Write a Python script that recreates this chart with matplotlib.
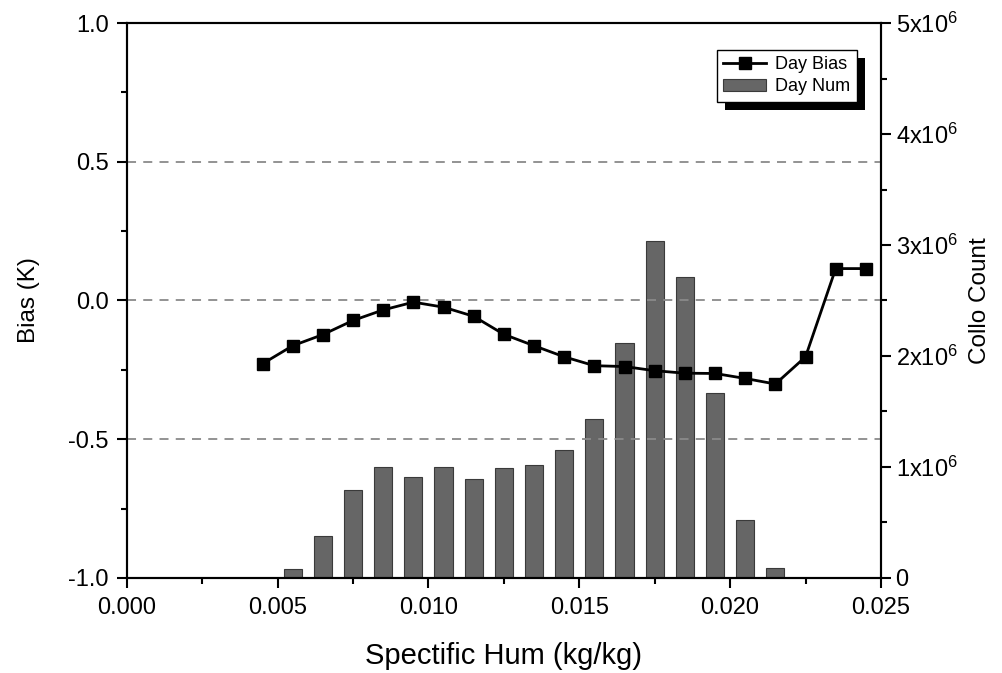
import numpy as np
import matplotlib
matplotlib.use("Agg")
import matplotlib.pyplot as plt
from matplotlib.patches import Rectangle
from matplotlib.ticker import MultipleLocator, FixedLocator

plt.rcParams['font.family'] = ['Liberation Sans', 'DejaVu Sans']
plt.rcParams['mathtext.fontset'] = 'custom'
plt.rcParams['mathtext.rm'] = 'Liberation Sans'
plt.rcParams['mathtext.it'] = 'Liberation Sans'

# Bias line (left axis)
bias_x = [0.0045, 0.0055, 0.0065, 0.0075, 0.0085, 0.0095, 0.0105, 0.0115,
          0.0125, 0.0135, 0.0145, 0.0155, 0.0165, 0.0175, 0.0185, 0.0195,
          0.0205, 0.0215, 0.0225, 0.0235, 0.0245]
day_bias = [-0.228, -0.163, -0.123, -0.072, -0.034, -0.006, -0.024, -0.057,
            -0.122, -0.163, -0.203, -0.235, -0.238, -0.253, -0.262, -0.263,
            -0.281, -0.301, -0.203, 0.115, 0.115]

# Collocation counts (right axis)
num_x = [0.0055, 0.0065, 0.0075, 0.0085, 0.0095, 0.0105, 0.0115, 0.0125,
         0.0135, 0.0145, 0.0155, 0.0165, 0.0175, 0.0185, 0.0195, 0.0205,
         0.0215]
day_num = [0.08e6, 0.38e6, 0.79e6, 1.0e6, 0.91e6, 1.0e6, 0.89e6, 0.99e6,
           1.02e6, 1.15e6, 1.43e6, 2.12e6, 3.04e6, 2.71e6, 1.67e6, 0.52e6,
           0.09e6]

right_ticks = [0, 1e6, 2e6, 3e6, 4e6, 5e6]
right_labels = ['0', '1x10$^{6}$', '2x10$^{6}$', '3x10$^{6}$', '4x10$^{6}$', '5x10$^{6}$']

fig = plt.figure(figsize=(10.02, 6.73), dpi=100)
ax = fig.add_axes([0.1265, 0.1412, 0.7527, 0.8246])
ax2 = ax.twinx()

# bars behind, line on top
bars = ax2.bar(num_x, day_num, width=0.0006, color='#666666',
               edgecolor='#3a3a3a', linewidth=0.8, label='Day Num')
ax.set_zorder(ax2.get_zorder() + 1)
ax.patch.set_visible(False)

for yv in [0.5, 0.0, -0.5]:
    ax.axhline(yv, color='#8a8a8a', lw=1.3, ls=(0, (5, 4)), zorder=1)

line, = ax.plot(bias_x, day_bias, color='black', lw=2, ls='-',
                marker='s', markersize=8.5, markerfacecolor='black',
                markeredgecolor='black', label='Day Bias', zorder=3)

ax.set_xlim(0, 0.025)
ax.set_ylim(-1.0, 1.0)
ax2.set_ylim(0, 5e6)

ax.xaxis.set_major_locator(MultipleLocator(0.005))
ax.xaxis.set_minor_locator(MultipleLocator(0.0025))
ax.yaxis.set_major_locator(MultipleLocator(0.5))
ax.yaxis.set_minor_locator(MultipleLocator(0.25))
ax.set_xticklabels([f'{v:.3f}' for v in ax.get_xticks()])
ax.set_yticks([-1.0, -0.5, 0.0, 0.5, 1.0])
ax.set_yticklabels(['-1.0', '-0.5', '0.0', '0.5', '1.0'])

ax2.yaxis.set_major_locator(FixedLocator(right_ticks))
ax2.set_yticklabels(right_labels)
ax2.yaxis.set_minor_locator(MultipleLocator(0.5e6))

for a in (ax, ax2):
    for s in a.spines.values():
        s.set_linewidth(1.5)
    a.tick_params(which='major', direction='out', length=7, width=1.5,
                  labelsize=17)
    a.tick_params(which='minor', direction='out', length=4, width=1.5)
ax.tick_params(axis='x', pad=7)
ax.tick_params(axis='y', pad=6)

ax.set_xlabel('Spectific Hum (kg/kg)', fontsize=21, labelpad=16)
ax.set_ylabel('Bias (K)', fontsize=17.5, labelpad=20)
ax2.set_ylabel('Collo Count', fontsize=17.5, labelpad=8)

leg = ax.legend([line, bars], ['Day Bias', 'Day Num'], loc='upper right',
                bbox_to_anchor=(0.968, 0.952), fontsize=13, frameon=True,
                fancybox=False, edgecolor='black', framealpha=1,
                handlelength=2.4, borderpad=0.35, labelspacing=0.3,
                handletextpad=0.5, borderaxespad=0)
leg.get_frame().set_linewidth(1.0)

# black drop shadow behind the legend box
fig.canvas.draw()
bb = leg.get_window_extent().transformed(fig.transFigure.inverted())
dx, dy = 8 / 1002, 8 / 673
shadow = Rectangle((bb.x0 + dx, bb.y0 - dy), bb.width, bb.height,
                   transform=fig.transFigure, facecolor='black',
                   edgecolor='none', zorder=0)
ax.add_artist(shadow)
shadow.set_zorder(leg.get_zorder() - 0.5)
shadow.set_clip_on(False)

fig.savefig('out.png', dpi=100)
